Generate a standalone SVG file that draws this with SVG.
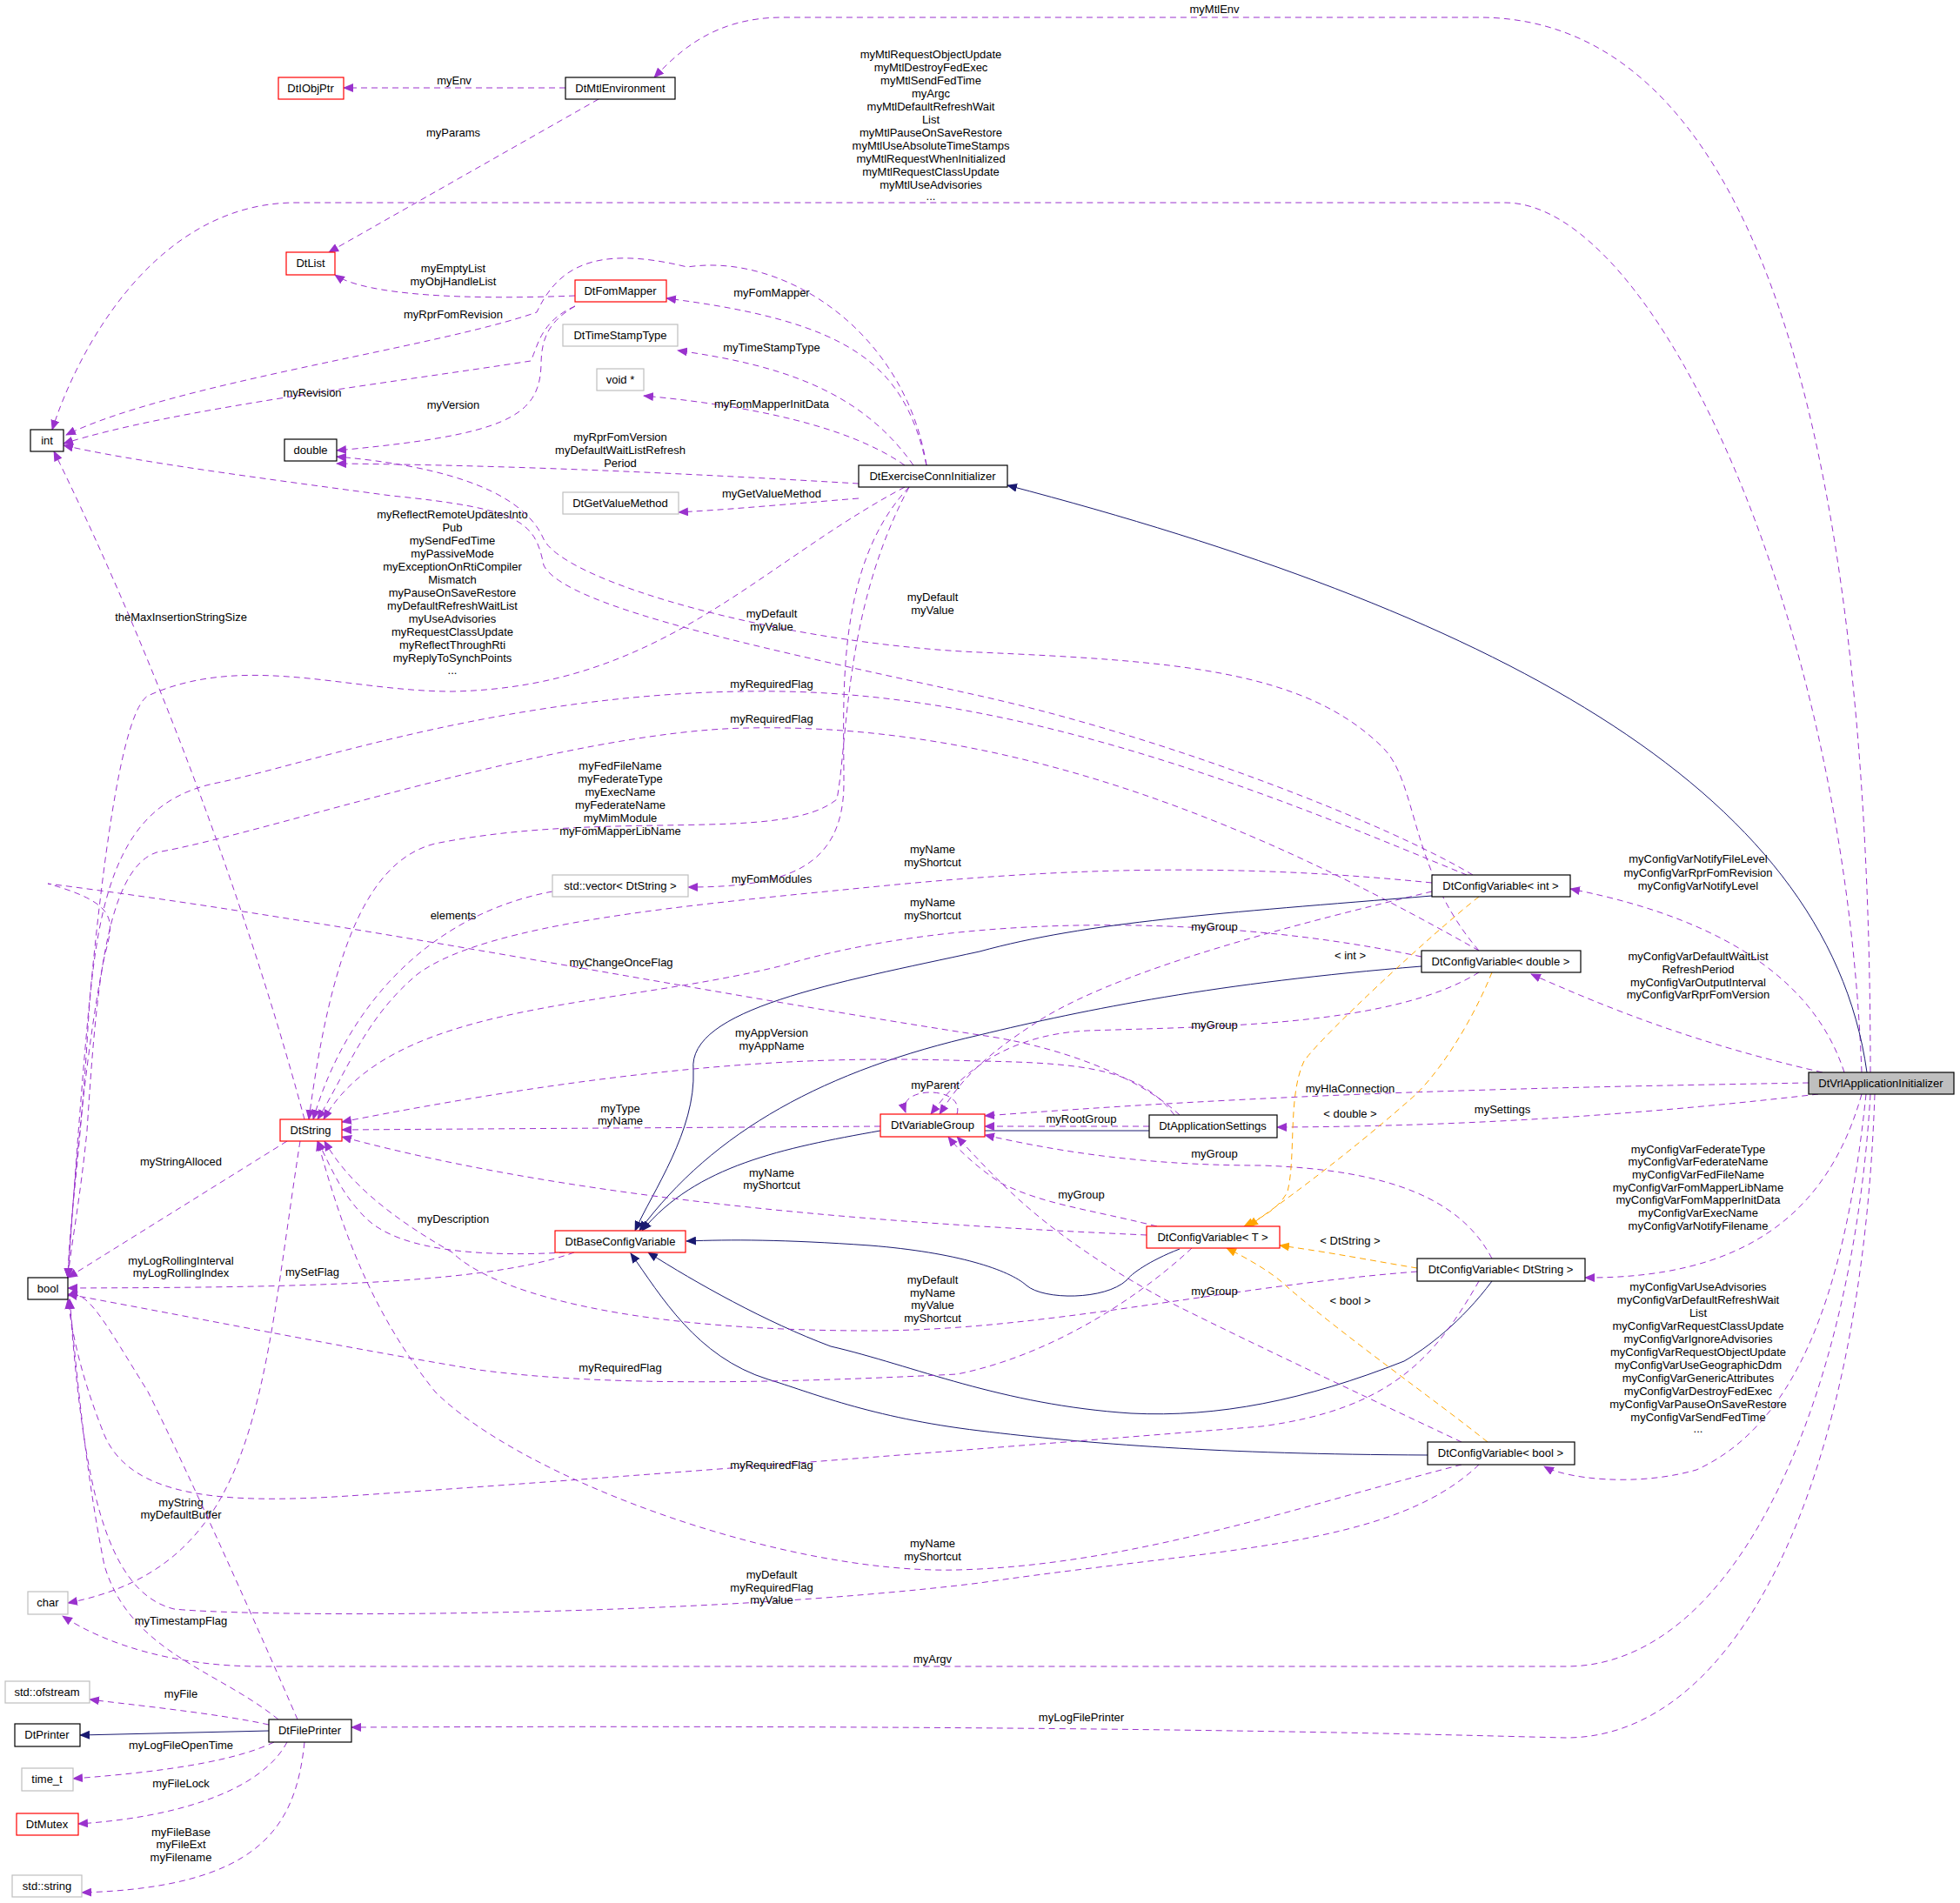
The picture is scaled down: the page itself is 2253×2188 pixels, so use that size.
<svg xmlns="http://www.w3.org/2000/svg" width="2253" height="2188" viewBox="0 0 2253 2188">
<style>
text{font-family:"Liberation Sans",Arial,sans-serif;font-size:13px;fill:#000;text-anchor:middle}
.n rect{fill:#fff;stroke:#000;stroke-width:1.2}
.r rect{stroke:#ff0000}
.g rect{stroke:#bfbfbf}
.e path{fill:none}
.d{stroke:#9a32cd;stroke-dasharray:7,5;marker-end:url(#mp)}
.s{stroke:#191970;marker-end:url(#mn)}
.o{stroke:#ffa500;stroke-dasharray:7,5;marker-end:url(#mo)}
</style>
<defs>
<marker id="mp" markerWidth="12" markerHeight="10" refX="11" refY="5" orient="auto" markerUnits="userSpaceOnUse"><path d="M0,0 L12,5 L0,10 z" fill="#9a32cd"/></marker>
<marker id="mn" markerWidth="12" markerHeight="10" refX="11" refY="5" orient="auto" markerUnits="userSpaceOnUse"><path d="M0,0 L12,5 L0,10 z" fill="#191970"/></marker>
<marker id="mo" markerWidth="12" markerHeight="10" refX="11" refY="5" orient="auto" markerUnits="userSpaceOnUse"><path d="M0,0 L12,5 L0,10 z" fill="#ffa500"/></marker>
</defs>
<rect width="2253" height="2188" fill="#fff"/>
<g id="edges" class="e">
<path class="d" d="M2150,1233 C2150,600 2050,20 1700,20 L900,20 C820,20 780,60 752,89"/><text x="1396" y="15">myMtlEnv</text>
<path class="d" d="M2140,1233 C2120,700 1900,233 1730,233 L340,233 C180,233 90,400 60,494"/>
<text x="1070" y="67">myMtlRequestObjectUpdate</text><text x="1070" y="82">myMtlDestroyFedExec</text><text x="1070" y="97">myMtlSendFedTime</text><text x="1070" y="112">myArgc</text><text x="1070" y="127">myMtlDefaultRefreshWait</text><text x="1070" y="142">List</text><text x="1070" y="157">myMtlPauseOnSaveRestore</text><text x="1070" y="172">myMtlUseAbsoluteTimeStamps</text><text x="1070" y="187">myMtlRequestWhenInitialized</text><text x="1070" y="202">myMtlRequestClassUpdate</text><text x="1070" y="217">myMtlUseAdvisories</text><text x="1070" y="230">...</text>
<path class="d" d="M650,101 L395,101"/><text x="522" y="97">myEnv</text>
<path class="d" d="M688,114 L378,290"/><text x="521" y="157">myParams</text>
<path class="d" d="M661,340 C540,345 420,340 385,316"/><text x="521" y="313">myEmptyList</text><text x="521" y="328">myObjHandleList</text>
<path class="d" d="M1065,535 C1040,380 900,290 790,307 C680,280 640,310 617,359 C500,400 200,440 76,500"/><text x="521" y="366">myRprFomRevision</text>
<path class="d" d="M661,352 C620,370 618,400 610,415 C450,440 200,470 73,510"/><text x="359" y="456">myRevision</text>
<path class="d" d="M661,352 C630,370 622,390 622,420 C620,480 580,500 387,518"/><text x="521" y="470">myVersion</text>
<path class="d" d="M1065,535 C1040,420 980,370 766,343"/><text x="887" y="341">myFomMapper</text>
<path class="d" d="M1050,535 C990,450 900,420 779,403"/><text x="887" y="404">myTimeStampType</text>
<path class="d" d="M1040,535 C990,500 900,470 740,455"/><text x="887" y="469">myFomMapperInitData</text>
<path class="d" d="M987,556 C800,545 600,535 387,533"/><text x="713" y="507">myRprFomVersion</text><text x="713" y="522">myDefaultWaitListRefresh</text><text x="713" y="537">Period</text>
<path class="d" d="M987,573 C900,580 850,585 780,589"/><text x="887" y="572">myGetValueMethod</text>
<path class="d" d="M1040,560 C870,650 760,790 520,795 C400,795 280,750 170,800 C120,830 90,1300 78,1469"/>
<text x="520" y="596">myReflectRemoteUpdatesInto</text><text x="520" y="611">Pub</text><text x="520" y="626">mySendFedTime</text><text x="520" y="641">myPassiveMode</text><text x="520" y="656">myExceptionOnRtiCompiler</text><text x="520" y="671">Mismatch</text><text x="520" y="686">myPauseOnSaveRestore</text><text x="520" y="701">myDefaultRefreshWaitList</text><text x="520" y="716">myUseAdvisories</text><text x="520" y="731">myRequestClassUpdate</text><text x="520" y="746">myReflectThroughRti</text><text x="520" y="761">myReplyToSynchPoints</text><text x="520" y="775">...</text>
<path class="d" d="M1045,560 C960,650 970,800 970,900 C970,1000 900,1020 791,1020"/><text x="887" y="1015">myFomModules</text>
<path class="d" d="M1045,560 C970,700 975,850 962,919 C900,970 700,930 500,970 C420,990 380,1100 355,1287"/>
<text x="713" y="885">myFedFileName</text><text x="713" y="900">myFederateType</text><text x="713" y="915">myExecName</text><text x="713" y="930">myFederateName</text><text x="713" y="945">myMimModule</text><text x="713" y="960">myFomMapperLibName</text>
<path class="d" d="M635,1025 C500,1050 400,1150 360,1287"/><text x="521" y="1057">elements</text>
<path class="d" d="M350,1287 C300,1100 200,800 62,519"/><text x="208" y="714">theMaxInsertionStringSize</text>
<path class="d" d="M330,1312 L78,1469"/><text x="208" y="1340">myStringAlloced</text>
<path class="d" d="M345,1312 C300,1600 300,1800 78,1843"/><text x="208" y="1732">myString</text><text x="208" y="1746">myDefaultBuffer</text>
<path class="s" d="M2146,1233 C2100,900 1700,700 1158,558"/>
<path class="d" d="M1700,1093 C1620,1000 1630,900 1590,860 C1500,770 1350,760 1126,750 C900,740 650,670 625,620 C610,585 560,540 387,525"/><text x="1072" y="691">myDefault</text><text x="1072" y="706">myValue</text>
<path class="d" d="M1693,1006 C1600,950 1350,850 1126,800 C900,750 650,700 625,650 C615,600 600,585 450,570 C300,550 150,530 73,512"/><text x="887" y="710">myDefault</text><text x="887" y="725">myValue</text>
<path class="d" d="M1686,1006 C1500,930 1200,800 900,795 C600,790 350,880 250,900 C150,920 110,1000 100,1200 C90,1350 80,1400 78,1469"/><text x="887" y="791">myRequiredFlag</text>
<path class="d" d="M1700,1093 C1500,980 1200,830 860,837 C650,840 300,960 180,980 C120,1000 110,1150 100,1300 C92,1380 82,1430 78,1469"/><text x="887" y="831">myRequiredFlag</text>
<path class="d" d="M1646,1015 C1400,990 1200,1000 1000,1020 C800,1040 560,1060 480,1120 C420,1170 400,1230 365,1287"/><text x="1072" y="981">myName</text><text x="1072" y="996">myShortcut</text>
<path class="d" d="M1634,1100 C1400,1050 1100,1050 900,1110 C700,1160 450,1150 372,1287"/><text x="1072" y="1042">myName</text><text x="1072" y="1057">myShortcut</text>
<path class="d" d="M1646,1025 C1500,1060 1300,1110 1200,1170 C1120,1220 1100,1250 1080,1281"/><text x="1396" y="1070">myGroup</text>
<path class="d" d="M1700,1118 C1600,1180 1400,1180 1250,1185 C1150,1190 1100,1240 1070,1281"/><text x="1396" y="1183">myGroup</text>
<path class="s" d="M1646,1030 C1400,1050 1250,1060 1126,1094 C960,1130 790,1160 797,1230 C800,1300 750,1370 730,1415"/>
<path class="s" d="M1634,1111 C1400,1130 1250,1160 1126,1190 C950,1230 820,1300 735,1415"/>
<path class="s" d="M1012,1300 C900,1320 800,1340 738,1415"/>
<path class="s" d="M1356,1436 C1320,1450 1300,1465 1295,1472 C1270,1495 1200,1495 1180,1478 C1160,1460 1100,1440 1000,1432 C900,1425 840,1425 789,1427"/>
<path class="s" d="M1715,1473 C1680,1520 1640,1550 1614,1565 C1500,1610 1400,1630 1300,1625 C1150,1615 1050,1570 955,1548 C880,1520 800,1475 745,1440"/>
<path class="s" d="M1641,1673 C1400,1672 1250,1660 1126,1645 C1000,1630 930,1600 883,1586 C800,1560 760,1490 725,1441"/>
<path class="d" d="M650,1440 C560,1445 460,1440 420,1400 C390,1370 380,1340 365,1312"/><text x="521" y="1406">myDescription</text>
<path class="d" d="M660,1440 C550,1480 300,1480 78,1481"/><text x="359" y="1467">mySetFlag</text>
<path class="d" d="M1012,1295 L393,1299"/><text x="713" y="1279">myType</text><text x="713" y="1293">myName</text>
<path class="d" d="M1100,1281 C1110,1248 1030,1248 1041,1279"/><text x="1075" y="1252">myParent</text>
<path class="s" d="M1321,1300 L1132,1300" style="marker-end:none"/>
<path class="d" d="M1321,1295 L1132,1295"/><text x="1243" y="1291">myRootGroup</text>
<path class="d" d="M1350,1282 C1310,1230 1250,1222 1126,1220 C1000,1216 800,1210 393,1290"/><text x="887" y="1192">myAppVersion</text><text x="887" y="1207">myAppName</text>
<path class="d" d="M1356,1282 C1300,1230 1200,1200 1126,1190 C800,1140 400,1060 55,1016 C140,1040 130,1060 120,1100 C100,1200 85,1350 78,1469"/><text x="714" y="1111">myChangeOnceFlag</text>
<path class="d" d="M2079,1245 C1800,1250 1500,1255 1132,1283"/><text x="1552" y="1256">myHlaConnection</text>
<path class="d" d="M2090,1258 C1900,1280 1700,1295 1468,1296"/><text x="1727" y="1280">mySettings</text>
<path class="d" d="M2120,1233 C2090,1140 2000,1060 1805,1022"/><text x="1952" y="992">myConfigVarNotifyFileLevel</text><text x="1952" y="1008">myConfigVarRprFomRevision</text><text x="1952" y="1023">myConfigVarNotifyLevel</text>
<path class="d" d="M2095,1233 C1950,1200 1850,1160 1760,1120"/><text x="1952" y="1104">myConfigVarDefaultWaitList</text><text x="1952" y="1119">RefreshPeriod</text><text x="1952" y="1134">myConfigVarOutputInterval</text><text x="1952" y="1148">myConfigVarRprFomVersion</text>
<path class="d" d="M2140,1258 C2100,1400 2000,1470 1822,1469"/>
<text x="1952" y="1326">myConfigVarFederateType</text><text x="1952" y="1340">myConfigVarFederateName</text><text x="1952" y="1355">myConfigVarFedFileName</text><text x="1952" y="1370">myConfigVarFomMapperLibName</text><text x="1952" y="1384">myConfigVarFomMapperInitData</text><text x="1952" y="1399">myConfigVarExecName</text><text x="1952" y="1414">myConfigVarNotifyFilename</text>
<path class="d" d="M2145,1258 C2120,1500 2060,1640 1950,1690 C1880,1710 1800,1700 1775,1686"/>
<text x="1952" y="1484">myConfigVarUseAdvisories</text><text x="1952" y="1499">myConfigVarDefaultRefreshWait</text><text x="1952" y="1514">List</text><text x="1952" y="1529">myConfigVarRequestClassUpdate</text><text x="1952" y="1544">myConfigVarIgnoreAdvisories</text><text x="1952" y="1559">myConfigVarRequestObjectUpdate</text><text x="1952" y="1574">myConfigVarUseGeographicDdm</text><text x="1952" y="1589">myConfigVarGenericAttributes</text><text x="1952" y="1604">myConfigVarDestroyFedExec</text><text x="1952" y="1619">myConfigVarPauseOnSaveRestore</text><text x="1952" y="1634">myConfigVarSendFedTime</text><text x="1952" y="1647">...</text>
<path class="d" d="M2150,1258 C2130,1600 2000,1916 1800,1916 L300,1916 C200,1916 120,1890 72,1858"/><text x="1072" y="1912">myArgv</text>
<path class="d" d="M2155,1258 C2140,1700 2000,1998 1800,1998 C1700,1996 1300,1982 404,1986"/><text x="1243" y="1979">myLogFilePrinter</text>
<path class="d" d="M309,1983 C250,1970 150,1960 103,1954"/><text x="208" y="1952">myFile</text>
<path class="s" d="M309,1990 L92,1995"/>
<path class="d" d="M315,2003 C260,2030 150,2040 84,2045"/><text x="208" y="2011">myLogFileOpenTime</text>
<path class="d" d="M330,2003 C300,2060 200,2090 90,2097"/><text x="208" y="2055">myFileLock</text>
<path class="d" d="M350,2003 C340,2100 300,2170 94,2176"/><text x="208" y="2111">myFileBase</text><text x="208" y="2125">myFileExt</text><text x="208" y="2140">myFilename</text>
<path class="d" d="M342,1977 C300,1880 220,1700 170,1600 C120,1520 100,1480 78,1490"/><text x="208" y="1454">myLogRollingInterval</text><text x="208" y="1468">myLogRollingIndex</text>
<path class="d" d="M320,1977 C250,1920 150,1900 120,1800 C100,1700 90,1600 80,1494"/><text x="208" y="1868">myTimestampFlag</text>
<path class="d" d="M1629,1462 C1400,1480 1200,1530 1000,1530 C700,1530 560,1480 520,1440 C450,1400 400,1360 373,1312"/><text x="1072" y="1476">myDefault</text><text x="1072" y="1491">myName</text><text x="1072" y="1505">myValue</text><text x="1072" y="1520">myShortcut</text>
<path class="d" d="M1715,1447 C1680,1380 1600,1345 1450,1340 C1300,1340 1200,1320 1132,1305"/><text x="1396" y="1331">myGroup</text>
<path class="d" d="M1330,1410 C1250,1390 1200,1385 1150,1360 C1120,1340 1100,1320 1090,1307"/><text x="1243" y="1378">myGroup</text>
<path class="d" d="M1318,1420 C1100,1410 700,1390 393,1307"/><text x="887" y="1353">myName</text><text x="887" y="1367">myShortcut</text>
<path class="d" d="M1370,1435 C1300,1500 1200,1560 1100,1580 C900,1590 700,1595 550,1575 C400,1550 250,1520 78,1488"/><text x="713" y="1577">myRequiredFlag</text>
<path class="d" d="M1680,1658 C1600,1620 1450,1550 1350,1500 C1200,1420 1150,1360 1100,1307"/><text x="1396" y="1489">myGroup</text>
<path class="d" d="M1700,1473 C1650,1560 1600,1620 1450,1640 C1200,1660 700,1700 400,1720 C250,1730 150,1720 120,1650 C100,1600 85,1550 78,1494"/><text x="887" y="1689">myRequiredFlag</text>
<path class="d" d="M1680,1684 C1500,1730 1300,1800 1100,1805 C900,1810 600,1700 500,1600 C420,1500 390,1400 365,1312"/><text x="1072" y="1779">myName</text><text x="1072" y="1794">myShortcut</text>
<path class="d" d="M1700,1684 C1600,1780 1400,1780 1126,1820 C800,1860 300,1860 200,1850 C120,1830 95,1700 80,1494"/><text x="887" y="1815">myDefault</text><text x="887" y="1830">myRequiredFlag</text><text x="887" y="1844">myValue</text>
<path class="o" d="M1700,1031 C1650,1070 1520,1190 1499,1220 C1480,1260 1490,1330 1480,1370 C1470,1390 1450,1400 1430,1410"/><text x="1552" y="1103">&lt; int &gt;</text>
<path class="o" d="M1715,1118 C1690,1180 1650,1240 1620,1265 C1580,1300 1520,1350 1435,1410"/><text x="1552" y="1285">&lt; double &gt;</text>
<path class="o" d="M1629,1458 C1580,1450 1530,1440 1471,1432"/><text x="1552" y="1431">&lt; DtString &gt;</text>
<path class="o" d="M1710,1658 C1650,1610 1550,1540 1480,1480 C1460,1460 1420,1440 1410,1435"/><text x="1552" y="1500">&lt; bool &gt;</text>
</g>
<g id="DtIObjPtr" class="n r"><rect x="320" y="89" width="75" height="25"/><text x="357" y="106">DtIObjPtr</text></g>
<g id="DtMtlEnvironment" class="n"><rect x="650" y="89" width="126" height="25"/><text x="713" y="106">DtMtlEnvironment</text></g>
<g id="DtList" class="n r"><rect x="329" y="290" width="56" height="26"/><text x="357" y="307">DtList</text></g>
<g id="DtFomMapper" class="n r"><rect x="661" y="322" width="105" height="25"/><text x="713" y="339">DtFomMapper</text></g>
<g id="DtTimeStampType" class="n g"><rect x="647" y="373" width="132" height="25"/><text x="713" y="390">DtTimeStampType</text></g>
<g id="void" class="n g"><rect x="686" y="424" width="54" height="25"/><text x="713" y="441">void *</text></g>
<g id="int" class="n"><rect x="35" y="494" width="38" height="25"/><text x="54" y="511">int</text></g>
<g id="double" class="n"><rect x="327" y="505" width="60" height="25"/><text x="357" y="522">double</text></g>
<g id="DtExerciseConnInitializer" class="n"><rect x="987" y="535" width="171" height="25"/><text x="1072" y="552">DtExerciseConnInitializer</text></g>
<g id="DtGetValueMethod" class="n g"><rect x="647" y="566" width="133" height="25"/><text x="713" y="583">DtGetValueMethod</text></g>
<g id="stdvector" class="n g"><rect x="635" y="1006" width="156" height="25"/><text x="713" y="1023">std::vector&lt; DtString &gt;</text></g>
<g id="DtConfigVariableInt" class="n"><rect x="1646" y="1006" width="159" height="25"/><text x="1725" y="1023">DtConfigVariable&lt; int &gt;</text></g>
<g id="DtConfigVariableDouble" class="n"><rect x="1634" y="1093" width="183" height="25"/><text x="1725" y="1110">DtConfigVariable&lt; double &gt;</text></g>
<g id="DtVrlApplicationInitializer" class="n"><rect x="2079" y="1233" width="167" height="25" style="fill:#bfbfbf"/><text x="2162" y="1250">DtVrlApplicationInitializer</text></g>
<g id="DtString" class="n r"><rect x="322" y="1287" width="71" height="25"/><text x="357" y="1304">DtString</text></g>
<g id="DtVariableGroup" class="n r"><rect x="1012" y="1281" width="120" height="26"/><text x="1072" y="1298">DtVariableGroup</text></g>
<g id="DtApplicationSettings" class="n"><rect x="1321" y="1282" width="147" height="26"/><text x="1394" y="1299">DtApplicationSettings</text></g>
<g id="DtConfigVariableT" class="n r"><rect x="1318" y="1410" width="153" height="25"/><text x="1394" y="1427">DtConfigVariable&lt; T &gt;</text></g>
<g id="DtBaseConfigVariable" class="n r"><rect x="638" y="1415" width="150" height="25"/><text x="713" y="1432">DtBaseConfigVariable</text></g>
<g id="DtConfigVariableDtString" class="n"><rect x="1629" y="1447" width="193" height="26"/><text x="1725" y="1464">DtConfigVariable&lt; DtString &gt;</text></g>
<g id="bool" class="n"><rect x="32" y="1469" width="46" height="25"/><text x="55" y="1486">bool</text></g>
<g id="DtConfigVariableBool" class="n"><rect x="1641" y="1658" width="169" height="26"/><text x="1725" y="1675">DtConfigVariable&lt; bool &gt;</text></g>
<g id="char" class="n g"><rect x="32" y="1830" width="46" height="26"/><text x="55" y="1847">char</text></g>
<g id="stdofstream" class="n g"><rect x="6" y="1933" width="97" height="25"/><text x="54" y="1950">std::ofstream</text></g>
<g id="DtFilePrinter" class="n"><rect x="309" y="1977" width="95" height="26"/><text x="356" y="1994">DtFilePrinter</text></g>
<g id="DtPrinter" class="n"><rect x="17" y="1982" width="75" height="26"/><text x="54" y="1999">DtPrinter</text></g>
<g id="time_t" class="n g"><rect x="25" y="2033" width="59" height="26"/><text x="54" y="2050">time_t</text></g>
<g id="DtMutex" class="n r"><rect x="19" y="2085" width="71" height="25"/><text x="54" y="2102">DtMutex</text></g>
<g id="stdstring" class="n g"><rect x="14" y="2156" width="80" height="25"/><text x="54" y="2173">std::string</text></g>
</svg>
